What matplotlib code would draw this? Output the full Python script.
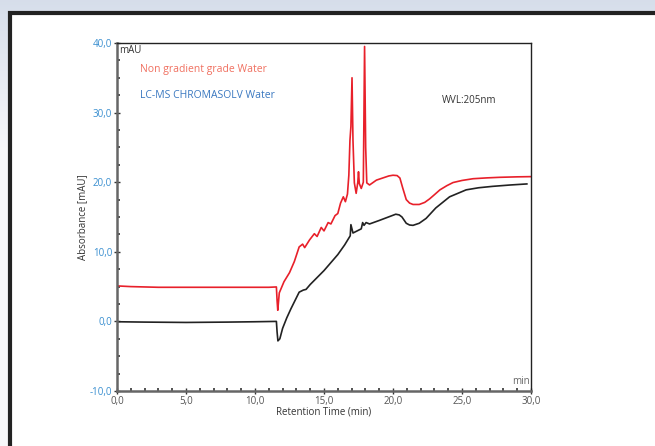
import numpy as np
import matplotlib
matplotlib.use("Agg")
import matplotlib.pyplot as plt
from matplotlib.patches import Rectangle
from matplotlib.ticker import MultipleLocator, FuncFormatter

plt.rcParams['font.family'] = ['Open Sans', 'DejaVu Sans']

# Non gradient grade Water (red)
t_red = [0, 1, 3, 6, 9, 11.0, 11.55, 11.6, 11.65, 11.76, 12.1, 12.5, 12.85, 13.2,
         13.45, 13.6, 13.95, 14.3, 14.5, 14.8, 15.0, 15.3, 15.5, 15.8, 16.0, 16.2,
         16.4, 16.55, 16.7, 16.8, 16.88, 16.95, 17.03, 17.1, 17.2, 17.33, 17.45,
         17.5, 17.56, 17.7, 17.85, 17.94, 18.02, 18.1, 18.3, 18.8, 19.25, 19.7,
         20.0, 20.3, 20.5, 20.7, 20.96, 21.2, 21.45, 21.9, 22.3, 22.65, 23.0,
         23.4, 23.9, 24.35, 25.0, 25.8, 26.8, 27.7, 29.0, 30.0]
a_red = [5.1, 5.0, 4.9, 4.9, 4.9, 4.9, 4.95, 3.0, 1.6, 4.1, 5.7, 7.0, 8.6, 10.7,
         11.1, 10.6, 11.7, 12.6, 12.2, 13.5, 13.0, 14.2, 14.0, 15.2, 15.5, 17.0,
         17.9, 17.2, 18.3, 21.0, 26.0, 28.0, 35.0, 26.0, 19.9, 18.4, 20.0,
         21.5, 19.8, 19.1, 20.0, 39.5, 25.0, 19.9, 19.6, 20.3, 20.6, 20.9,
         21.0, 20.95, 20.6, 19.2, 17.5, 17.0, 16.8, 16.8, 17.1, 17.6, 18.2,
         18.9, 19.5, 19.95, 20.25, 20.5, 20.62, 20.7, 20.77, 20.8]

# LC-MS CHROMASOLV Water (black)
t_blk = [0, 2, 5, 8, 10, 11.55, 11.6, 11.66, 11.8, 12.0, 12.3, 12.6, 12.9, 13.2, 13.5,
         13.7, 14, 15, 16, 16.5, 16.9, 16.95, 17.1, 17.4, 17.7, 17.8, 17.9, 18.05,
         18.3, 19.0, 19.6, 20.2, 20.45, 20.65, 20.96, 21.2, 21.45, 21.9, 22.4,
         23.1, 24.1, 25.3, 26.2, 27.2, 28.5, 29.7]
a_blk = [-0.05, -0.1, -0.15, -0.1, -0.05, 0.0, -1.5, -2.8, -2.5, -1.0, 0.5, 1.8, 3.0, 4.2, 4.5,
         4.6, 5.3, 7.3, 9.6, 11.0, 12.3, 13.9, 12.7, 13.0, 13.3, 14.2, 13.8, 14.2,
         14.0, 14.5, 14.95, 15.4, 15.3, 15.0, 14.1, 13.85, 13.8, 14.1, 14.8,
         16.3, 17.9, 18.9, 19.2, 19.4, 19.6, 19.75]

W, H = 655, 446
fig = plt.figure(figsize=(W / 100, H / 100), dpi=100)

# background gradient + white panel with black frame
bg = fig.add_axes([0, 0, 1, 1])
grad = np.linspace(0, 1, 256).reshape(-1, 1)
top = np.array([0.84, 0.87, 0.92])
bot = np.array([0.97, 0.97, 0.98])
img = top + (bot - top) * np.clip(grad * 3, 0, 1)[..., None]
bg.imshow(img.reshape(256, 1, 3), aspect='auto', extent=[0, W, H, 0])
bg.add_patch(Rectangle((10, 13), W, H, facecolor='white', edgecolor='#222222', lw=3))
bg.set_xlim(0, W)
bg.set_ylim(H, 0)
bg.axis('off')

ax = fig.add_axes([117 / W, 1 - 391 / H, (531 - 117) / W, (391 - 43) / H])
ax.plot(t_red, a_red, color='#e8202a', lw=1.2)
ax.plot(t_blk, a_blk, color='#222222', lw=1.2)

ax.set_xlim(0, 30)
ax.set_ylim(-10, 40)
comma = FuncFormatter(lambda v, p: f"{v:.1f}".replace('.', ','))
ax.xaxis.set_major_locator(MultipleLocator(5))
ax.xaxis.set_minor_locator(MultipleLocator(1))
ax.yaxis.set_major_locator(MultipleLocator(10))
ax.yaxis.set_minor_locator(MultipleLocator(2.5))
ax.xaxis.set_major_formatter(comma)
ax.yaxis.set_major_formatter(comma)

ax.tick_params(which='major', direction='inout', length=5, width=1, color='#333333',
               labelsize=7, pad=1)
ax.tick_params(which='minor', direction='in', length=2.5, width=1.2, color='#333333')
ax.tick_params(axis='x', labelcolor='#555555')
ax.tick_params(axis='y', labelcolor='#3a8fd0')

for s in ['left', 'bottom']:
    ax.spines[s].set_color('#666666')
    ax.spines[s].set_linewidth(1.8)
for s in ['top', 'right']:
    ax.spines[s].set_color('#222222')
    ax.spines[s].set_linewidth(1.0)

ax.set_xlabel('Retention Time (min)', fontsize=7, color='#333333', labelpad=0)
ax.set_ylabel('Absorbance [mAU]', fontsize=7, color='#333333', labelpad=1)

ax.text(0.005, 0.995, 'mAU', transform=ax.transAxes, fontsize=7, color='#333333',
        ha='left', va='top')
ax.text(0.998, 0.012, 'min', transform=ax.transAxes, fontsize=7, color='#666666',
        ha='right', va='bottom')
ax.text(0.785, 0.835, 'WVL:205nm', transform=ax.transAxes, fontsize=7, color='#333333',
        ha='left', va='center')
ax.text(0.055, 0.923, 'Non gradient grade Water', transform=ax.transAxes, fontsize=7.5,
        color='#f07060', ha='left', va='center')
ax.text(0.055, 0.848, 'LC-MS CHROMASOLV Water', transform=ax.transAxes, fontsize=7.5,
        color='#3a78c0', ha='left', va='center')

fig.savefig('out.png', dpi=100)
